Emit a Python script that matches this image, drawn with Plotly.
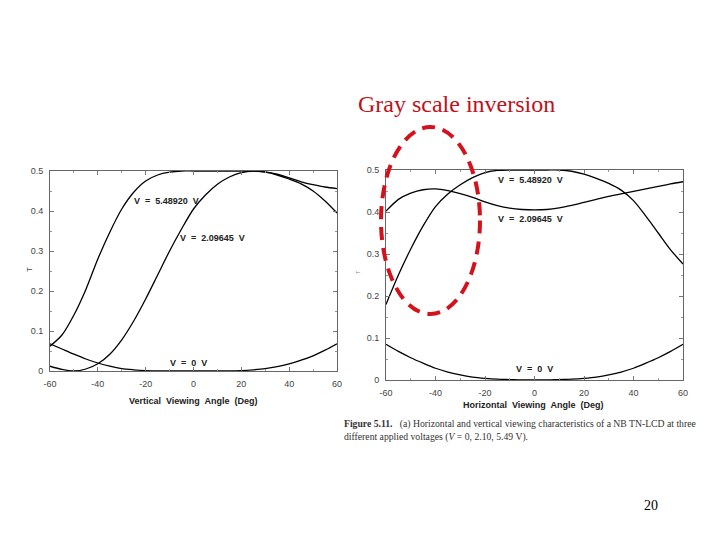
import plotly.graph_objects as go
from plotly.subplots import make_subplots

# viewing angle (deg)
angles = [-60, -55, -50, -45, -40, -35, -30, -25, -20, -15, -10, -5, 0,
          5, 10, 15, 20, 25, 30, 35, 40, 45, 50, 55, 60]
tick_angles = [-60, -40, -20, 0, 20, 40, 60]
tick_angle_text = ['-60', '-40', '-20', '0', '20', '40', '60']
tick_t = [0, 0.1, 0.2, 0.3, 0.4, 0.5]
tick_t_text = ['0', '0.1', '0.2', '0.3', '0.4', '0.5']

# vertical viewing characteristics, T
vert_v549 = [0.062, 0.09, 0.14, 0.204, 0.28, 0.347, 0.405, 0.447, 0.475, 0.49, 0.497, 0.5, 0.5,
             0.5, 0.5, 0.5, 0.5, 0.5, 0.498, 0.492, 0.483, 0.473, 0.466, 0.46, 0.456]
vert_v210 = [0.012, 0.004, 0.0, 0.005, 0.018, 0.042, 0.078, 0.125, 0.18, 0.24, 0.30, 0.355, 0.405,
             0.44, 0.467, 0.485, 0.496, 0.5, 0.497, 0.49, 0.48, 0.468, 0.45, 0.425, 0.395]
vert_v0 = [0.068, 0.055, 0.042, 0.03, 0.02, 0.012, 0.006, 0.003, 0.001, 0.0, 0.0, 0.0, 0.0,
           0.0, 0.0, 0.0, 0.001, 0.003, 0.006, 0.011, 0.018, 0.027, 0.038, 0.052, 0.068]

# horizontal viewing characteristics, T
horiz_v549 = [0.18, 0.25, 0.312, 0.367, 0.413, 0.443, 0.465, 0.482, 0.494, 0.499, 0.5, 0.5, 0.5,
              0.5, 0.5, 0.497, 0.49, 0.48, 0.468, 0.452, 0.427, 0.39, 0.35, 0.31, 0.276]
horiz_v210 = [0.402, 0.43, 0.445, 0.453, 0.455, 0.451, 0.444, 0.435, 0.424, 0.415, 0.409, 0.406, 0.405,
              0.406, 0.41, 0.416, 0.423, 0.43, 0.437, 0.443, 0.449, 0.455, 0.461, 0.467, 0.472]
horiz_v0 = [0.085, 0.068, 0.053, 0.04, 0.028, 0.019, 0.012, 0.007, 0.004, 0.002, 0.001, 0.0, 0.0,
            0.0, 0.001, 0.002, 0.004, 0.007, 0.012, 0.019, 0.028, 0.04, 0.053, 0.068, 0.085]

# the page body has an 8px margin, so the figure is a bit smaller and offset
OFF = 8
W, H = 720 - OFF, 540 - OFF


def px(x):
    return (x - OFF) / W


def py(y):
    return (H - (y - OFF)) / H


fig = make_subplots(rows=1, cols=2)

line = dict(color='black', width=1.3, shape='spline', smoothing=0.8)
for ys in (vert_v549, vert_v210, vert_v0):
    fig.add_trace(go.Scatter(x=angles, y=ys, mode='lines', line=line, showlegend=False), row=1, col=1)
for ys in (horiz_v549, horiz_v210, horiz_v0):
    fig.add_trace(go.Scatter(x=angles, y=ys, mode='lines', line=line, showlegend=False), row=1, col=2)

tick_font = dict(family='Liberation Sans, Arial, sans-serif', size=9, color='#444')
axis_common = dict(showline=True, linecolor='#666', linewidth=1, mirror='ticks',
                   ticks='inside', ticklen=4, tickcolor='#777', showgrid=False, zeroline=False,
                   tickfont=tick_font, automargin=False, ticklabelstandoff=4,
                   minor=dict(ticks='inside', ticklen=2, tickcolor='#999', nticks=3))

fig.update_xaxes(range=[-60, 60], tickvals=tick_angles, ticktext=tick_angle_text, **axis_common)
fig.update_yaxes(range=[0, 0.5], tickvals=tick_t, ticktext=tick_t_text, **axis_common)

fig.update_layout(
    width=W, height=H, template='none',
    paper_bgcolor='white', plot_bgcolor='white',
    margin=dict(l=0, r=0, t=0, b=0),
    xaxis=dict(domain=[px(50), px(337)]),
    yaxis=dict(domain=[py(371), py(171)]),
    xaxis2=dict(domain=[px(386), px(683)]),
    yaxis2=dict(domain=[py(380), py(170)]),
)

lab_font = dict(family='Liberation Sans, Arial, sans-serif', size=9, color='#222')
labels = [
    ('x', 'y', -11.5, 0.425, 'V  =  5.48920  V'),
    ('x', 'y', 8.0, 0.333, 'V  =  2.09645  V'),
    ('x', 'y', -2.0, 0.02, 'V  =  0  V'),
    ('x2', 'y2', -1.8, 0.476, 'V  =  5.48920  V'),
    ('x2', 'y2', -1.8, 0.383, 'V  =  2.09645  V'),
    ('x2', 'y2', -0.2, 0.026, 'V  =  0  V'),
]
for xr, yr, x, y, t in labels:
    fig.add_annotation(xref=xr, yref=yr, x=x, y=y, text='<b>' + t + '</b>', showarrow=False,
                       xanchor='center', yanchor='middle', font=lab_font)


def note(x, y, text, font, **kw):
    kw.setdefault('xanchor', 'center')
    fig.add_annotation(xref='paper', yref='paper', x=px(x), y=py(y), text=text,
                       yanchor='middle', showarrow=False, font=font, **kw)


# axis titles
note(193, 401, '<b>Vertical  Viewing  Angle  (Deg)</b>', lab_font)
note(533, 405, '<b>Horizontal  Viewing  Angle  (Deg)</b>', lab_font)
note(30, 270, 'T', dict(family='Liberation Sans, Arial, sans-serif', size=8, color='#444'), textangle=-90)
note(358, 272, 'T', dict(family='Liberation Sans, Arial, sans-serif', size=6, color='#888'), textangle=-90)

# slide title
note(356, 104, 'Gray scale inversion',
     dict(family='Liberation Serif, Times New Roman, serif', size=24, color='#c0101a'), xanchor='left')

# caption
note(342, 430,
     '<b>Figure 5.11.</b>   (a) Horizontal and vertical viewing characteristics of a NB TN-LCD at three'
     '<br>different applied voltages (<i>V</i> = 0, 2.10, 5.49 V).',
     dict(family='Liberation Serif, Times New Roman, serif', size=9.7, color='#333'),
     xanchor='left', align='left')

# page number
note(651, 505, '20', dict(family='Liberation Serif, Times New Roman, serif', size=14, color='black'))

# red dashed ellipse highlighting the inversion region
fig.add_shape(type='circle', xref='paper', yref='paper',
              x0=px(381), x1=px(480), y0=py(314), y1=py(127),
              line=dict(color='#d4121c', width=4, dash='13px,8px'), layer='above')

fig.write_html('out.html')
